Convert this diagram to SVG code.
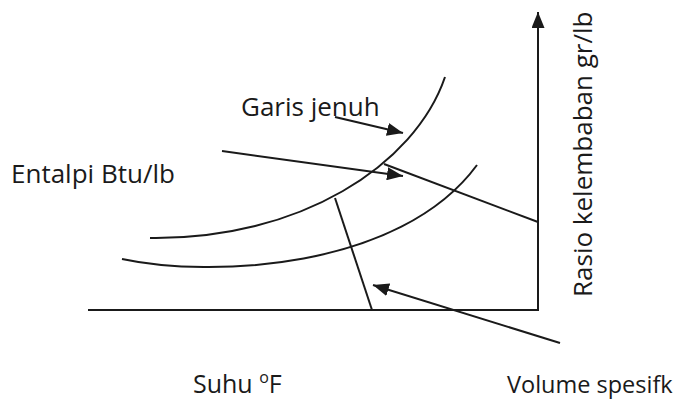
<svg xmlns="http://www.w3.org/2000/svg" width="680" height="402" viewBox="0 0 680 402">
  <style>
    .ln { fill: none; stroke: #1a1a1a; stroke-width: 2; }
    .arr { marker-end: url(#ah); }
    .lbl { font-family: "Open Sans", "Noto Sans", sans-serif; fill: #1a1a1a; }
  </style>
  <defs>
    <marker id="ah" markerUnits="userSpaceOnUse" markerWidth="17" markerHeight="13" refX="16" refY="6.5" orient="auto">
      <path d="M0,0 L16,6.5 L0,13 z" fill="#1a1a1a"/>
    </marker>
  </defs>
  <rect width="680" height="402" fill="#ffffff"/>
  <g id="axes">
    <path class="ln arr" d="M88,310 L538,310 L538,12"/>
  </g>
  <g id="curves">
    <path id="garis-jenuh-curve" class="ln" d="M150,238 C300,240 415,165 445,77"/>
    <path id="lower-curve" class="ln" d="M122,259 C210,278 400,270 477,165"/>
  </g>
  <g id="connectors">
    <path class="ln arr" d="M222,151 L403,176"/>
    <path class="ln" d="M384,164 L538,222"/>
    <path class="ln arr" d="M335,117 L403,133"/>
    <path class="ln arr" d="M560,343 L373,285"/>
    <path class="ln" d="M335,198 L372,310"/>
  </g>
  <g id="labels">
    <text class="lbl" x="241" y="116" font-size="26">Garis jenuh</text>
    <text class="lbl" x="11" y="183" font-size="26">Entalpi Btu/lb</text>
    <text class="lbl" x="193" y="393" font-size="25">Suhu <tspan font-size="16" dy="-10">o</tspan><tspan dy="10">F</tspan></text>
    <text class="lbl" x="507" y="393" font-size="23.5">Volume spesifk</text>
    <text class="lbl" font-size="26" transform="translate(592,297) rotate(-90)">Rasio kelembaban gr/lb</text>
  </g>
</svg>
